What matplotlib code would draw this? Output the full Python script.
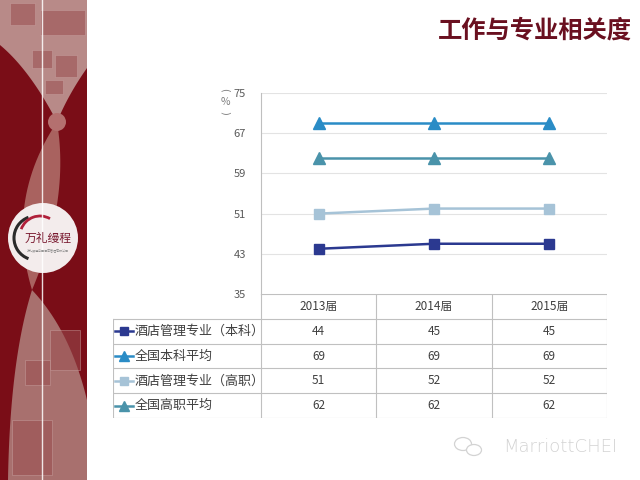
import numpy as np
import matplotlib.pyplot as plt
from matplotlib.patches import Rectangle, Circle, Polygon, Arc, Ellipse

plt.rcParams['font.family'] = ['Noto Sans CJK SC', 'DejaVu Sans']

# data
years = ['2013届', '2014届', '2015届']
hotel_bk = [44, 45, 45]      # 酒店管理专业（本科）
nat_bk = [69, 69, 69]        # 全国本科平均
hotel_gz = [51, 52, 52]      # 酒店管理专业（高职）
nat_gz = [62, 62, 62]        # 全国高职平均
names = ['酒店管理专业（本科）', '全国本科平均', '酒店管理专业（高职）', '全国高职平均']
yticks = [35, 43, 51, 59, 67, 75]
title = '工作与专业相关度'

colors = ['#2B3990', '#2A8CC6', '#A6C3D7', '#4A93AA']
markers = ['s', '^', 's', '^']
series = [hotel_bk, nat_bk, hotel_gz, nat_gz]

W, H = 640, 480
fig = plt.figure(figsize=(6.4, 4.8), dpi=100)


def px_axes(x0, y0, x1, y1, **kw):
    return fig.add_axes([x0 / W, 1 - y1 / H, (x1 - x0) / W, (y1 - y0) / H], **kw)


def qcurve(p0, c, p1, n=30):
    t = np.linspace(0, 1, n)[:, None]
    p0, c, p1 = map(np.array, (p0, c, p1))
    return (1 - t) ** 2 * p0 + 2 * (1 - t) * t * c + t ** 2 * p1


# background / left decoration, pixel coords
bg = fig.add_axes([0, 0, 1, 1])
bg.set_xlim(0, W)
bg.set_ylim(H, 0)
bg.axis('off')

dark = '#7A0D17'
light = '#A9625F'
bg.add_patch(Rectangle((0, 0), 87, 480, fc=dark, ec='none'))

top = np.vstack([[(0, 0), (87, 0), (87, 68)],
                 qcurve((87, 68), (68, 95), (57, 122)),
                 qcurve((57, 122), (30, 70), (0, 45))])
bg.add_patch(Polygon(top, fc='#B88A88', ec='none'))
mid = np.vstack([qcurve((57, 122), (5, 200), (32, 290)),
                 qcurve((32, 290), (70, 200), (57, 122))])
bg.add_patch(Polygon(mid, fc=light, ec='none'))
bot = np.vstack([qcurve((32, 290), (70, 330), (87, 400)),
                 [(87, 480), (8, 480)],
                 qcurve((8, 480), (10, 360), (32, 290))])
bg.add_patch(Polygon(bot, fc='#A8706E', ec='none'))
bg.add_patch(Circle((57, 122), 9, fc='#B4706F', ec='none'))

# faded picture frames
for (x, y, w, h) in [(40, 10, 45, 25), (32, 50, 20, 18), (55, 55, 22, 22), (45, 80, 18, 14),
                     (10, 3, 25, 22), (50, 330, 30, 40), (12, 420, 40, 55), (25, 360, 25, 25)]:
    bg.add_patch(Rectangle((x, y), w, h, fc='#9A4E50', ec='#C9A2A0', lw=0.6, alpha=0.55))

bg.plot([42, 42], [0, 480], color='white', lw=1, alpha=0.85)

# logo
bg.add_patch(Circle((43, 238), 35, fc='#F3ECEC', ec='none'))
bg.add_patch(Arc((36, 238), 44, 44, theta1=110, theta2=250, color='#2A2A2A', lw=2.2))
bg.add_patch(Arc((40, 236), 40, 40, theta1=200, theta2=300, color='#B0203A', lw=2))
bg.text(48, 238, '万礼缦程', ha='center', va='center', fontsize=8.5, color='#7A1A30')
bg.text(48, 250, '万礼缦程中国酒店管理有限公司', ha='center', va='center', fontsize=2.2, color='#888888')

# title
bg.text(632, 31, title, ha='right', va='center', fontsize=17.5, fontweight='bold', color='#6A1020')

# watermark
bg.add_patch(Ellipse((463, 444), 17, 13, fc='none', ec='#D3D3D3', lw=0.9))
bg.add_patch(Ellipse((474, 450), 15, 11, fc='white', ec='#D3D3D3', lw=0.9))
bg.text(617, 447, 'MarriottCHEI', ha='right', va='center', fontsize=13,
        color='#D3D3D3', family='DejaVu Sans', fontweight='light')

# y unit label (vertical text)
bg.text(225, 90, '(', ha='center', va='center', rotation=-90, fontsize=7,
        color='#7F7F7F', family='DejaVu Sans')
bg.text(225, 102, '%', ha='center', va='center', fontsize=7.5, color='#7F7F7F')
bg.text(225, 113, ')', ha='center', va='center', rotation=-90, fontsize=7,
        color='#7F7F7F', family='DejaVu Sans')

# line chart
ax = px_axes(261, 93, 607, 294)
ax.set_xlim(0, 3)
ax.set_ylim(35, 75)
x = np.arange(len(years)) + 0.5
for s, c, m in zip(series, colors, markers):
    ax.plot(x, s, color=c, lw=1.8, marker=m, markersize=7 if m == 's' else 8, zorder=3)
ax.set_yticks(yticks)
ax.set_xticks([])
ax.tick_params(axis='y', length=0, pad=11, labelsize=8, labelcolor='#595959')
ax.yaxis.grid(True, color='#E3E3E3', lw=0.8)
for sp in ['top', 'right', 'bottom']:
    ax.spines[sp].set_visible(False)
ax.spines['left'].set_color('#BFBFBF')
ax.set_facecolor('none')

# data table below
xl = -(261 - 113) / (346 / 3)
tab = px_axes(113, 294, 607, 418)
tab.set_xlim(xl, 3)
tab.set_ylim(5, 0)
tab.axis('off')
gc = '#C0C0C0'
tab.plot([0, 3], [0, 0], color=gc, lw=0.8)
for r in range(1, 6):
    tab.plot([xl, 3], [r, r], color=gc, lw=0.8)
for cx in range(4):
    tab.plot([cx, cx], [0, 5], color=gc, lw=0.8)
tab.plot([xl, xl], [1, 5], color=gc, lw=0.8)

for i, yr in enumerate(years):
    tab.text(i + 0.5, 0.5, yr, ha='center', va='center', fontsize=8.5, color='#404040')
for r, (nm, s, c, m) in enumerate(zip(names, series, colors, markers)):
    yy = r + 1.5
    tab.plot([xl + 0.02, xl + 0.17], [yy, yy], color=c, lw=1.8)
    tab.plot([xl + 0.095], [yy], color=c, marker=m, markersize=6 if m == 's' else 6.5)
    tab.text(xl + 0.185, yy, nm, ha='left', va='center', fontsize=9.4, color='#404040')
    for i, v in enumerate(s):
        tab.text(i + 0.5, yy, str(v), ha='center', va='center', fontsize=8.5, color='#404040')

fig.savefig('out.png', dpi=100)
